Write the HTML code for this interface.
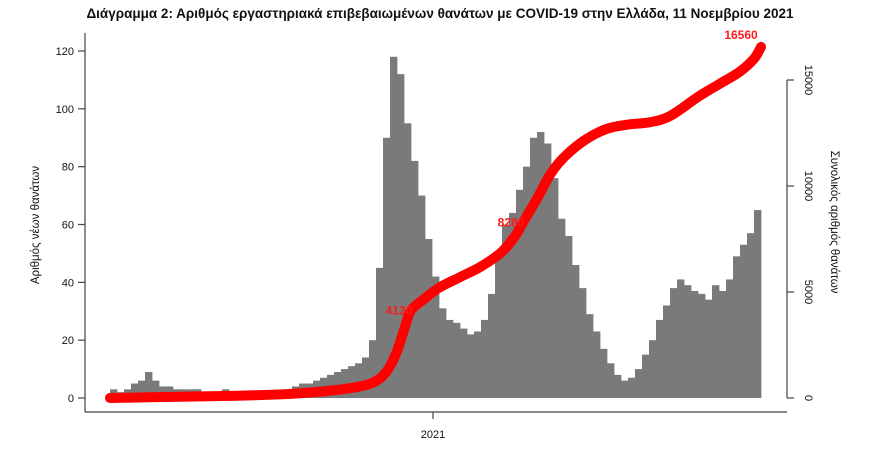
<!DOCTYPE html>
<html><head><meta charset="utf-8">
<style>
html,body{margin:0;padding:0;background:#fff;}
svg{display:block;font-family:"Liberation Sans","DejaVu Sans",sans-serif;}
</style></head>
<body>
<svg id="chart" width="880" height="476" viewBox="0 0 880 476">
<text x="440" y="18" text-anchor="middle" font-size="13.5" font-weight="bold" fill="#111">Διάγραμμα 2: Αριθμός εργαστηριακά επιβεβαιωμένων θανάτων με COVID-19 στην Ελλάδα, 11 Νοεμβρίου 2021</text>
<g id="bars"></g>
<g id="line"></g>
<g id="axes"></g>
</svg>
<script>
// weekly new deaths (left axis)
const weeklyDeaths = [3,2,3,5,6,9,6,4,4,3,3,3,3,2,2,2,3,2,2,2,2,2,2,2,2,3,4,5,5,6,7,8,9,10,11,12,14,20,45,90,118,112,95,82,70,55,42,31,27,26,24,22,23,27,36,50,60,64,72,80,90,92,88,76,62,56,46,38,29,23,17,12,8,6,7,10,15,20,27,32,38,41,39,37,36,34,39,37,41,49,53,57,65];
// cumulative deaths at sample week indices (right axis)
const cumWeeks = [0,10,17,25,31,35,37,38,39,40,41,42,43,45,47,50,53,56,58,59,61,63,65,68,71,74,77,80,84,87,90,92,93];
const cumValues = [0,60,100,180,330,500,650,800,1050,1500,2200,3200,4130,4700,5200,5700,6200,6900,7700,8280,9400,10600,11400,12200,12700,12900,13000,13300,14200,14800,15400,16000,16560];
const leftTicks = [0,20,40,60,80,100,120];
const rightTicks = [0,5000,10000,15000];
const pointLabels = [{w:43,v:4130,t:"4130"},{w:59,v:8280,t:"8280"},{w:93,v:16560,t:"16560"}];

const NS="http://www.w3.org/2000/svg";
const x0=110, bw=7;
const xW = w => x0 + w*bw;
const yL = v => 398 - v*(398-51)/120;
const yR = v => 398 - v*(398-80)/15000;
function mk(tag, attrs, parent){const e=document.createElementNS(NS,tag);for(const k in attrs)e.setAttribute(k,attrs[k]);parent.appendChild(e);return e;}

const bars=document.getElementById('bars');
weeklyDeaths.forEach((v,i)=>{
  const r=mk('rect',{x:xW(i),y:yL(v),width:bw+0.4,height:398-yL(v),fill:'#7a7a7a'},bars);
  
  
});

const line=document.getElementById('line');
const pts=cumWeeks.map((w,i)=>[xW(w),yR(cumValues[i])]);
let d='M'+pts[0][0]+','+pts[0][1];
for(let i=0;i<pts.length-1;i++){
  const p0=pts[Math.max(i-1,0)],p1=pts[i],p2=pts[i+1],p3=pts[Math.min(i+2,pts.length-1)];
  const c1=[p1[0]+(p2[0]-p0[0])/6,p1[1]+(p2[1]-p0[1])/6];
  const c2=[p2[0]-(p3[0]-p1[0])/6,p2[1]-(p3[1]-p1[1])/6];
  d+=`C${c1[0]},${c1[1]} ${c2[0]},${c2[1]} ${p2[0]},${p2[1]}`;
}
const p=mk('path',{d:d,fill:'none',stroke:'#ff0000','stroke-width':10,'stroke-linecap':'round','stroke-linejoin':'round'},line);


pointLabels.forEach(o=>{
  const t=mk('text',{x:xW(o.w)-(o.w===93?20:12),y:yR(o.v)-(o.w===93?8:-4),'font-size':12,'font-weight':'bold',fill:'#ff1a1a','text-anchor':'middle'},line);
  t.textContent=o.t;
  
  
});

const ax=document.getElementById('axes');
const st={stroke:'#444','stroke-width':1.2};
const la=mk('line',Object.assign({x1:85,y1:33,x2:85,y2:412},st),ax);


const ba=mk('line',Object.assign({x1:85,y1:412,x2:787,y2:412},st),ax);


mk('line',Object.assign({x1:433,y1:412,x2:433,y2:419},st),ax);
const xl=mk('text',{x:433,y:438,'font-size':11,'text-anchor':'middle',fill:'#111'},ax);
xl.textContent='2021';


leftTicks.forEach(v=>{
  mk('line',Object.assign({x1:78,y1:yL(v),x2:85,y2:yL(v)},st),ax);
  const t=mk('text',{x:74,y:yL(v)+4,'font-size':11,'text-anchor':'end',fill:'#111'},ax);
  t.textContent=v;
  
  
});
const ra=mk('line',Object.assign({x1:787,y1:80,x2:787,y2:398},st),ax);


rightTicks.forEach(v=>{
  mk('line',Object.assign({x1:787,y1:yR(v),x2:794,y2:yR(v)},st),ax);
  const t=mk('text',{x:0,y:0,'font-size':11,'text-anchor':'middle',fill:'#111',transform:`translate(805,${yR(v)}) rotate(90)`},ax);
  t.textContent=v;
  
  
});
const yt=mk('text',{x:0,y:0,'font-size':11.5,'text-anchor':'middle',fill:'#111',transform:'translate(39,225) rotate(-90)'},ax);
yt.textContent='Αριθμός νέων θανάτων';


const rt=mk('text',{x:0,y:0,'font-size':11.5,'text-anchor':'middle',fill:'#111',transform:'translate(831,222) rotate(90)'},ax);
rt.textContent='Συνολικός αριθμός θανάτων';


</script>
</body></html>
